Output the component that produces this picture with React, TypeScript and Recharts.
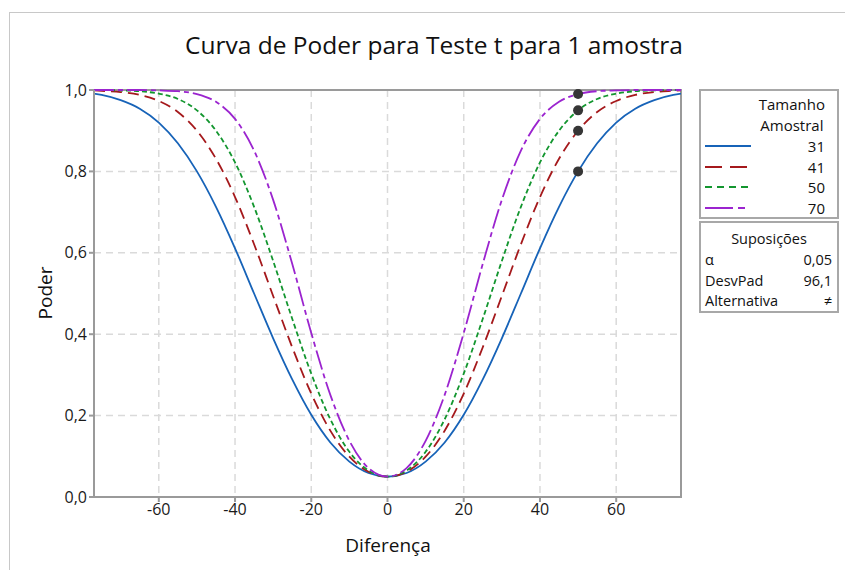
import { ComposedChart, Line, XAxis, YAxis, CartesianGrid, ReferenceArea, ReferenceDot } from "recharts";

// difference values (x) and power for each sample size
const diffs = [-77, -75, -70, -65, -60, -55, -50, -45, -40, -35, -30, -25, -20, -15, -10, -5, 0, 5, 10, 15, 20, 25, 30, 35, 40, 45, 50, 55, 60, 65, 70, 75, 77];
const power31 = [0.991, 0.988, 0.975, 0.954, 0.92, 0.869, 0.8, 0.713, 0.611, 0.5, 0.39, 0.289, 0.202, 0.134, 0.087, 0.059, 0.05, 0.059, 0.087, 0.134, 0.202, 0.289, 0.39, 0.5, 0.611, 0.713, 0.8, 0.869, 0.92, 0.954, 0.975, 0.988, 0.991];
const power41 = [0.999, 0.998, 0.995, 0.988, 0.973, 0.946, 0.9, 0.831, 0.737, 0.621, 0.494, 0.368, 0.254, 0.163, 0.099, 0.062, 0.05, 0.062, 0.099, 0.163, 0.254, 0.368, 0.494, 0.621, 0.737, 0.831, 0.9, 0.946, 0.973, 0.988, 0.995, 0.998, 0.999];
const power50 = [1, 1, 0.999, 0.997, 0.991, 0.978, 0.95, 0.9, 0.822, 0.713, 0.58, 0.438, 0.303, 0.191, 0.111, 0.065, 0.05, 0.065, 0.111, 0.191, 0.303, 0.438, 0.58, 0.713, 0.822, 0.9, 0.95, 0.978, 0.991, 0.997, 0.999, 1, 1];
const power70 = [1, 1, 1, 1, 0.999, 0.997, 0.99, 0.971, 0.929, 0.851, 0.73, 0.573, 0.403, 0.251, 0.138, 0.071, 0.05, 0.071, 0.138, 0.251, 0.403, 0.573, 0.73, 0.851, 0.929, 0.971, 0.99, 0.997, 0.999, 1, 1, 1, 1];

const sampleSizes = ["31", "41", "50", "70"];
const targetDiff = 50;
const targetPower = [0.8, 0.9, 0.95, 0.99];

const xTicks = [-60, -40, -20, 0, 20, 40, 60];
const yTicks = [0, 0.2, 0.4, 0.6, 0.8, 1];

const assumptions = [
  ["α", "0,05"],
  ["DesvPad", "96,1"],
  ["Alternativa", "≠"],
];

const data = diffs.map((d, i) => ({
  d,
  n31: power31[i],
  n41: power41[i],
  n50: power50[i],
  n70: power70[i],
}));

const series = [
  { key: "n31", color: "#1763b8", dash: undefined, legendDash: undefined },
  { key: "n41", color: "#a5191c", dash: "11 6", legendDash: "17 8" },
  { key: "n50", color: "#13962f", dash: "5 3", legendDash: "7 5" },
  { key: "n70", color: "#9b24cf", dash: "20 4 5 4", legendDash: "28 5 7 100" },
];

const font = "'Open Sans', 'Noto Sans', sans-serif";
const fmt = (v: number) => v.toFixed(1).replace(".", ",");
const fmtX = (v: number) => String(v);

export default function App() {
  return (
    <div style={{ position: "absolute", left: 0, top: 0, width: 845, height: 570, background: "#fff", fontFamily: font }}>
      {/* outer frame */}
      <div style={{ position: "absolute", left: 9, top: 12, width: 836, height: 558, borderTop: "1px solid #c8c8c8", borderLeft: "1px solid #c8c8c8" }} />
      <div style={{ position: "absolute", left: 0, top: 28, width: 868, textAlign: "center", fontSize: 24.5, fontWeight: 500, color: "#111" }}>
        Curva de Poder para Teste t para 1 amostra
      </div>
      <ComposedChart
        width={845}
        height={570}
        data={data}
        margin={{ top: 90, right: 164, bottom: 43, left: 44 }}
        style={{ position: "absolute", left: 0, top: 0 }}
      >
        <CartesianGrid stroke="#dadada" strokeDasharray="7 5" strokeWidth={1.5} />
        <XAxis
          dataKey="d"
          type="number"
          domain={[-77, 77]}
          ticks={xTicks}
          tickFormatter={fmtX}
          allowDataOverflow
          stroke="#9a9a9a"
          strokeWidth={2}
          tickSize={5}
          tick={{ fill: "#1a1a1a", fontSize: 16, fontFamily: font }}
          height={30}
        />
        <YAxis
          type="number"
          domain={[0, 1]}
          ticks={yTicks}
          tickFormatter={fmt}
          stroke="#9a9a9a"
          strokeWidth={2}
          tickSize={5}
          tick={{ fill: "#1a1a1a", fontSize: 16, fontFamily: font }}
          width={50}
        />
        <ReferenceArea x1={-77} x2={77} y1={0} y2={1} fill="none" stroke="#9a9a9a" strokeWidth={2} />
        {series.map((s) => (
          <Line
            key={s.key}
            dataKey={s.key}
            type="monotone"
            stroke={s.color}
            strokeWidth={1.8}
            strokeDasharray={s.dash}
            dot={false}
            isAnimationActive={false}
          />
        ))}
        {targetPower.map((p, i) => (
          <ReferenceDot key={i} x={targetDiff} y={p} r={5} fill="#363636" stroke="none" />
        ))}
      </ComposedChart>
      <div style={{ position: "absolute", left: 45, top: 293, transform: "translate(-50%, -50%) rotate(-90deg)", fontSize: 19, color: "#111" }}>
        Poder
      </div>
      <div style={{ position: "absolute", left: 388, top: 545, transform: "translate(-50%, -50%)", fontSize: 19, color: "#111" }}>
        Diferença
      </div>
      {/* legend: sample sizes */}
      <div style={{ position: "absolute", left: 699, top: 89, width: 136, height: 126, border: "2px solid #a8a8a8", fontSize: 15, color: "#111" }}>
        <div style={{ position: "absolute", right: 12, top: 3, textAlign: "center", lineHeight: "21px" }}>
          Tamanho
          <br />
          Amostral
        </div>
        {series.map((s, i) => (
          <div key={s.key} style={{ position: "absolute", left: 4, top: 45 + i * 20.5, width: 120, height: 20 }}>
            <svg width={46} height={20} style={{ position: "absolute", left: 0, top: 0 }}>
              <line x1={0} y1={10} x2={46} y2={10} stroke={s.color} strokeWidth={2} strokeDasharray={s.legendDash} />
            </svg>
            <span style={{ position: "absolute", right: 0, top: 0, lineHeight: "20px" }}>{sampleSizes[i]}</span>
          </div>
        ))}
      </div>
      {/* assumptions box */}
      <div style={{ position: "absolute", left: 699, top: 221, width: 136, height: 88, border: "2px solid #a8a8a8", fontSize: 14.5, color: "#111" }}>
        <div style={{ position: "absolute", left: 0, width: 136, top: 6, textAlign: "center", lineHeight: "20px" }}>Suposições</div>
        {assumptions.map((a, i) => (
          <div key={a[0]} style={{ position: "absolute", left: 4, right: 5, top: 27 + i * 20.5, lineHeight: "20px", height: 20 }}>
            <span style={{ position: "absolute", left: 0 }}>{a[0]}</span>
            <span style={{ position: "absolute", right: 0 }}>{a[1]}</span>
          </div>
        ))}
      </div>
    </div>
  );
}
